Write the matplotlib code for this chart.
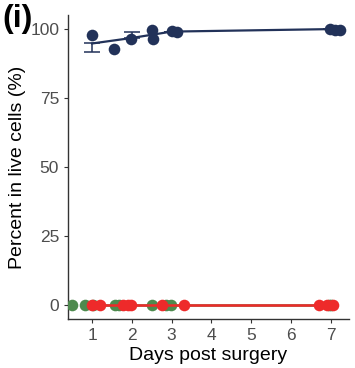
import numpy as np
import matplotlib
matplotlib.use("Agg")
import matplotlib.pyplot as plt

plt.rcParams['font.family'] = ['Liberation Sans', 'DejaVu Sans']

# individual samples (jittered day position, percent in live cells)
blue_x = [1.0, 1.55, 1.98, 2.52, 2.54, 3.02, 3.14, 6.99, 7.10, 7.23]
blue_y = [97.6, 92.5, 96.1, 99.3, 96.4, 99.0, 98.8, 100.0, 99.6, 99.6]

green_x = [0.49, 0.83, 1.03, 1.57, 1.69, 2.52, 2.85, 2.98, 6.95, 7.0]
green_y = [0, 0, 0, 0, 0, 0, 0, 0, 0, 0]

red_x = [0.99, 1.2, 1.78, 1.90, 1.98, 2.77, 3.31, 6.70, 6.9, 7.07]
red_y = [0, 0, 0, 0, 0, 0, 0, 0, 0, 0]

# group means per day and error bars
days = [1, 2, 3, 7]
blue_mean = [94.6, 96.6, 98.9, 99.8]
blue_err_low = [3.1, 0.0, 0.0, 0.0]
blue_err_high = [0.0, 2.0, 0.0, 0.0]
green_mean = [0, 0, 0, 0]
red_mean = [0, 0, 0, 0]

xticks = [1, 2, 3, 4, 5, 6, 7]
yticks = [0, 25, 50, 75, 100]

c_blue = '#223259'
c_green = '#4E8A4E'
c_red = '#EE2A2A'

fig = plt.figure(figsize=(3.55, 3.68), dpi=100)
ax = fig.add_axes([0.192, 0.133, 0.79, 0.827])

ax.plot(days, green_mean, color=c_green, lw=1.8, zorder=2)
ax.scatter(green_x, green_y, s=70, color=c_green, zorder=3, linewidths=0)
ax.plot(days, red_mean, color=c_red, lw=1.8, zorder=4)
ax.scatter(red_x, red_y, s=70, color=c_red, zorder=5, linewidths=0)

ax.plot(days, blue_mean, color=c_blue, lw=1.6, zorder=2)
ax.errorbar(days, blue_mean, yerr=[blue_err_low, blue_err_high], fmt='none',
            ecolor=c_blue, elinewidth=1.1, capsize=6, capthick=1.1, zorder=2)
ax.scatter(blue_x, blue_y, s=70, color=c_blue, zorder=3, linewidths=0)

ax.set_xlim(0.4, 7.45)
ax.set_ylim(-5, 105)
ax.set_xticks(xticks)
ax.set_yticks(yticks)
ax.tick_params(labelsize=12.5, labelcolor='#4D4D4D', color='#333333',
               length=3, width=0.8)
for s in ['top', 'right']:
    ax.spines[s].set_visible(False)
for s in ['left', 'bottom']:
    ax.spines[s].set_color('#333333')
    ax.spines[s].set_linewidth(1.0)

ax.set_xlabel('Days post surgery', fontsize=14, labelpad=3)
ax.set_ylabel('Percent in live cells (%)', fontsize=14, labelpad=3)
fig.text(0.008, 0.99, '(i)', fontsize=23, fontweight='bold', va='top', ha='left')

fig.savefig('out.png', dpi=100)
